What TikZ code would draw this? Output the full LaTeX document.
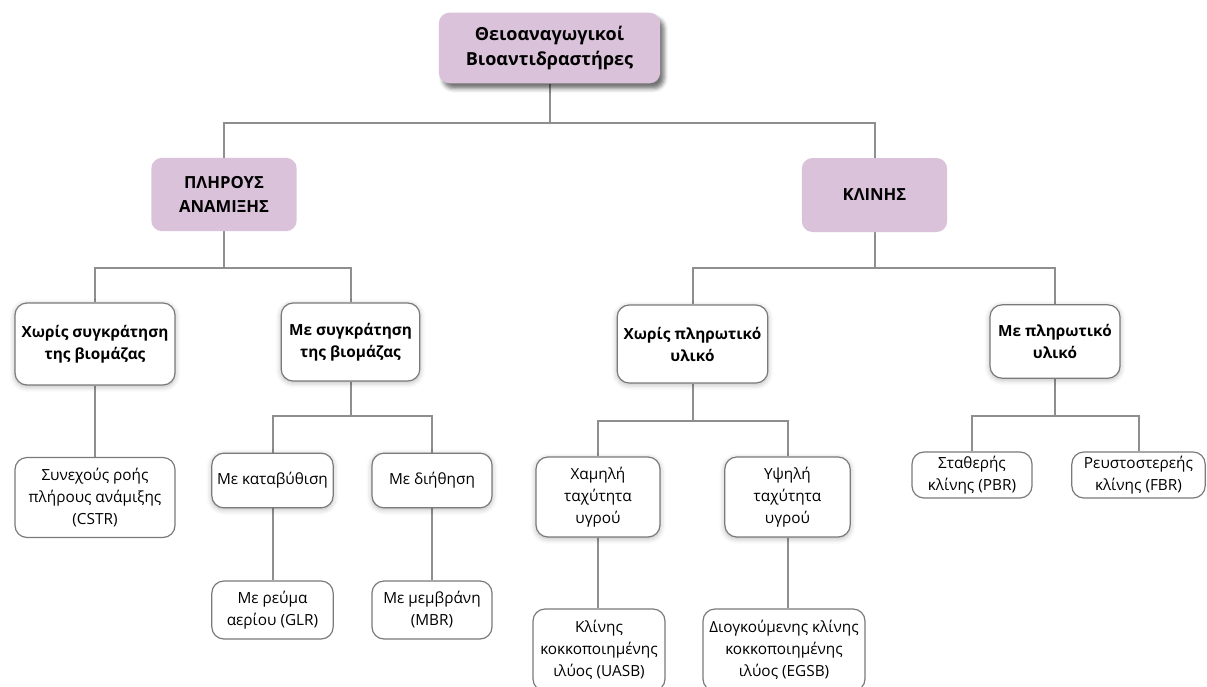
\documentclass[tikz,border=0pt]{standalone}
\usepackage{fontspec}
\setmainfont{Open Sans}
\usetikzlibrary{shadows.blur,backgrounds}
\definecolor{lilac}{HTML}{D9C2DA}
\definecolor{linegrey}{HTML}{8E8E8E}
\definecolor{rim}{HTML}{7A7A7A}

\newcommand\boxtext{\fontsize{11.5}{16.5}\selectfont}

\tikzset{
  head/.style={fill=lilac,rounded corners=8pt,align=center,font=\fontsize{12.5}{18}\selectfont\bfseries,inner sep=0pt},
  sub/.style={fill=white,draw=rim,line width=.9pt,rounded corners=9pt,align=center,inner sep=0pt,
    blur shadow={shadow xshift=0pt,shadow yshift=-1.2pt,shadow opacity=30,shadow blur radius=4pt}},
  leaf/.style={fill=white,draw=rim,line width=.9pt,rounded corners=9pt,align=center,inner sep=0pt},
  strong/.style={font=\boxtext\bfseries},
  tie/.style={draw=linegrey,line width=1.5pt}
}

\begin{document}
\begin{tikzpicture}[x=.75pt,y=-.75pt,font=\boxtext]
\useasboundingbox (0,0) rectangle (1207,686);

\node[head,minimum width=166pt,minimum height=53pt,font=\fontsize{13.5}{19}\selectfont\bfseries,
  blur shadow={shadow xshift=3pt,shadow yshift=-4pt,shadow opacity=55,shadow blur radius=3pt}]
  (root) at (549.5,48) {Θειοαναγωγικοί\\Βιοαντιδραστήρες};

\node[head,minimum width=109pt,minimum height=55pt] (plires) at (224,194.5) {ΠΛΗΡΟΥΣ\\ΑΝΑΜΙΞΗΣ};
\node[head,minimum width=109pt,minimum height=55.5pt] (klini) at (874.5,195) {ΚΛΙΝΗΣ};

\node[sub,strong,minimum width=120pt,minimum height=61.5pt] (xwris) at (95,344) {Χωρίς συγκράτηση\\της βιομάζας};
\node[sub,strong,minimum width=104pt,minimum height=58.5pt] (me) at (350.5,342) {Με συγκράτηση\\της βιομάζας};
\node[sub,strong,minimum width=113pt,minimum height=58.5pt] (xwrisfill) at (692.5,344) {Χωρίς πληρωτικό\\υλικό};
\node[sub,strong,minimum width=97.5pt,minimum height=55pt] (mefill) at (1055,341.5) {Με πληρωτικό\\υλικό};

\node[leaf,minimum width=120pt,minimum height=60pt] (cstr) at (95,497.5) {Συνεχούς ροής\\πλήρους ανάμιξης\\(CSTR)};
\node[sub,minimum width=91pt,minimum height=41pt] (kat) at (272.5,480.5) {Με καταβύθιση};
\node[sub,minimum width=90pt,minimum height=41pt] (dih) at (432,480.5) {Με διήθηση};
\node[leaf,minimum width=91pt,minimum height=43.5pt] (glr) at (272.5,610) {Με ρεύμα\\αερίου (GLR)};
\node[leaf,minimum width=90pt,minimum height=43.5pt] (mbr) at (432,610) {Με μεμβράνη\\(MBR)};

\node[sub,minimum width=93pt,minimum height=60pt] (low) at (598,497) {Χαμηλή\\ταχύτητα\\υγρού};
\node[sub,minimum width=94pt,minimum height=60pt] (high) at (787.5,497) {Υψηλή\\ταχύτητα\\υγρού};
\node[leaf,minimum width=99pt,minimum height=61.5pt] (uasb) at (599,650) {Κλίνης\\κοκκοποιημένης\\ιλύος (UASB)};
\node[leaf,minimum width=121.5pt,minimum height=61.5pt] (egsb) at (784,650) {Διογκούμενης κλίνης\\κοκκοποιημένης\\ιλύος (EGSB)};

\node[leaf,minimum width=90pt,minimum height=34.5pt] (pbr) at (972,475) {Σταθερής\\κλίνης (PBR)};
\node[leaf,minimum width=100pt,minimum height=34.5pt] (fbr) at (1138.5,475) {Ρευστοστερεής\\κλίνης (FBR)};

\begin{scope}[on background layer]
\draw[tie] (root.south) -- ++(0,39) -| (plires.north);
\draw[tie] (root.south) -- ++(0,39) -| (klini.north);
\draw[tie] (plires.south) -- ++(0,36.5) -| (xwris.north);
\draw[tie] (plires.south) -- ++(0,36.5) -| (me.north);
\draw[tie] (klini.south) -- ++(0,35.5) -| (xwrisfill.north);
\draw[tie] (klini.south) -- ++(0,35.5) -| (mefill.north);
\draw[tie] (xwris.south) -- (xwris.south |- cstr.north);
\draw[tie] (me.south) -- ++(0,34) -| (kat.north);
\draw[tie] (me.south) -- ++(0,34) -| (dih.north);
\draw[tie] (kat.south) -- (kat.south |- glr.north);
\draw[tie] (dih.south) -- (dih.south |- mbr.north);
\draw[tie] (xwrisfill.south) -- ++(0,37) -| (low.north);
\draw[tie] (xwrisfill.south) -- ++(0,37) -| (high.north);
\draw[tie] (low.south) -- (low.south |- uasb.north);
\draw[tie] (high.south) -- (high.south |- egsb.north);
\draw[tie] (mefill.south) -- ++(0,37) -| (pbr.north);
\draw[tie] (mefill.south) -- ++(0,37) -| (fbr.north);
\end{scope}
\end{tikzpicture}
\end{document}
